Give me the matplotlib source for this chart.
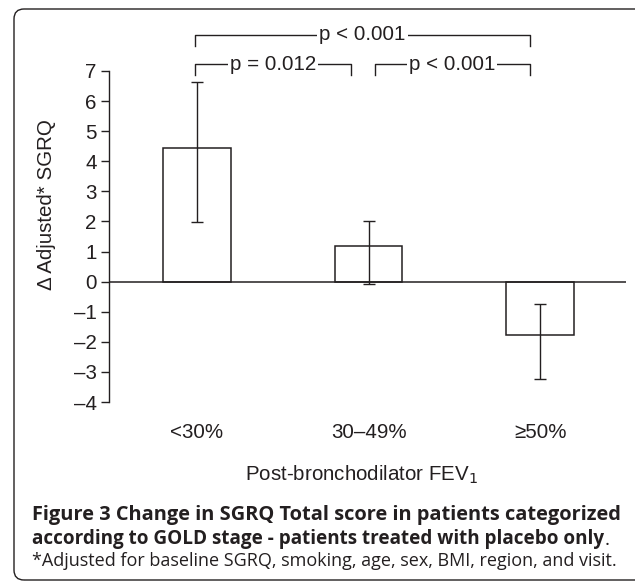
import matplotlib
matplotlib.use("Agg")
import matplotlib.pyplot as plt
from matplotlib.patches import FancyBboxPatch

# datos
grupos = ["<30%", "30\u201349%", "\u226550%"]
cambio = [4.45, 1.17, -1.78]
err_sup = [6.62, 2.0, -0.75]
err_inf = [1.97, -0.07, -3.22]
yticks = [7, 6, 5, 4, 3, 2, 1, 0, -1, -2, -3, -4]

# comparaciones (izq, der, texto)
comparaciones = [(0, 2, "p < 0.001"), (0, 1, "p = 0.012"), (1, 2, "p < 0.001")]

plt.rcParams['font.family'] = ['Liberation Sans', 'DejaVu Sans']
negro = "#231f20"
fs = 14.8

fig = plt.figure(figsize=(6.35, 5.83), dpi=100)
ax = fig.add_axes([109/635, 1-402/583, (626-109)/635, 331/583])

x = list(range(len(grupos)))
ax.bar(x, cambio, width=0.395, color="white", edgecolor=negro, linewidth=1.1, zorder=2)
yerr = [[c - lo for c, lo in zip(cambio, err_inf)], [hi - c for c, hi in zip(cambio, err_sup)]]
ax.errorbar(x, cambio, yerr=yerr, fmt="none", ecolor=negro, elinewidth=1.0, capsize=4.5,
            capthick=1.0, zorder=3)
ax.axhline(0, color=negro, linewidth=1.1, zorder=4)

ax.set_xlim(-0.512, 2.5)
ax.set_ylim(-4, 7)
ax.set_yticks(yticks)
ax.set_yticklabels([str(v).replace("-", "\u2013") for v in yticks], fontsize=fs, color=negro)
ax.set_xticks(x)
ax.set_xticklabels(grupos, fontsize=fs, color=negro)
ax.tick_params(axis="x", length=0, pad=15)
ax.tick_params(axis="y", length=5.8, width=1.0, color=negro, pad=3)
for s in ["top", "right", "bottom"]:
    ax.spines[s].set_visible(False)
ax.spines["left"].set_color(negro)
ax.spines["left"].set_linewidth(1.0)

# corchetes de significancia
niveles = {(0, 2): (8.2, 7.83), (0, 1): (7.23, 6.87), (1, 2): (7.23, 6.87)}
extremos = {(0, 2): (-0.01, 1.94), (0, 1): (-0.01, 0.895), (1, 2): (1.035, 1.94)}
for a, b, txt in comparaciones:
    yb, yt = niveles[(a, b)]
    x0, x1 = extremos[(a, b)]
    ax.plot([x0, x0, x1, x1], [yt, yb, yb, yt], color=negro, linewidth=1.0, clip_on=False)
    ax.text((x0 + x1) / 2, yb, txt, ha="center", va="center", fontsize=fs, color=negro,
            bbox=dict(facecolor="white", edgecolor="none", pad=1.5), clip_on=False)

fig.text(47/635, 1-205/583, "\u0394 Adjusted* SGRQ", rotation=90, ha="center", va="center",
         fontsize=fs, color=negro)
fig.text(362/635, 1-475/583, "Post-bronchodilator FEV$_1$", ha="center", va="center",
         fontsize=fs, color=negro)

# leyenda de la figura
cap = dict(fontsize=12, color=negro, family=["Open Sans", "DejaVu Sans"])
t1 = fig.text(32/635, 1-520/583, "Figure 3 Change in SGRQ Total score in patients categorized",
              ha="left", va="baseline", fontweight="bold", **cap)
t2 = fig.text(32/635, 1-544/583, "according to GOLD stage - patients treated with placebo only",
              ha="left", va="baseline", fontweight="bold", **cap)
t3 = fig.text(32/635, 1-566/583, "*Adjusted for baseline SGRQ, smoking, age, sex, BMI, region, and visit.",
              ha="left", va="baseline", **cap)
punto = ax.annotate(".", xy=(1, 0), xycoords=t2, ha="left", va="bottom", **cap)

# ajustar el tamano del texto al ancho de la leyenda original
fig.canvas.draw()
r = fig.canvas.get_renderer()
w1 = t1.get_window_extent(r).width
w2 = t2.get_window_extent(r).width
w3 = t3.get_window_extent(r).width
t1.set_fontsize(12 * 588 / w1)
t2.set_fontsize(12 * 571 / w2)
punto.set_fontsize(12 * 571 / w2)
t3.set_fontsize(12 * 585 / w3)

marco = FancyBboxPatch((0.14, 0.03), 6.4, 5.71, boxstyle="round,pad=0,rounding_size=0.1",
                       transform=fig.dpi_scale_trans, facecolor="none", edgecolor=negro,
                       linewidth=1.0, clip_on=False)
fig.patches.append(marco)

plt.savefig("out.png", dpi=100)
